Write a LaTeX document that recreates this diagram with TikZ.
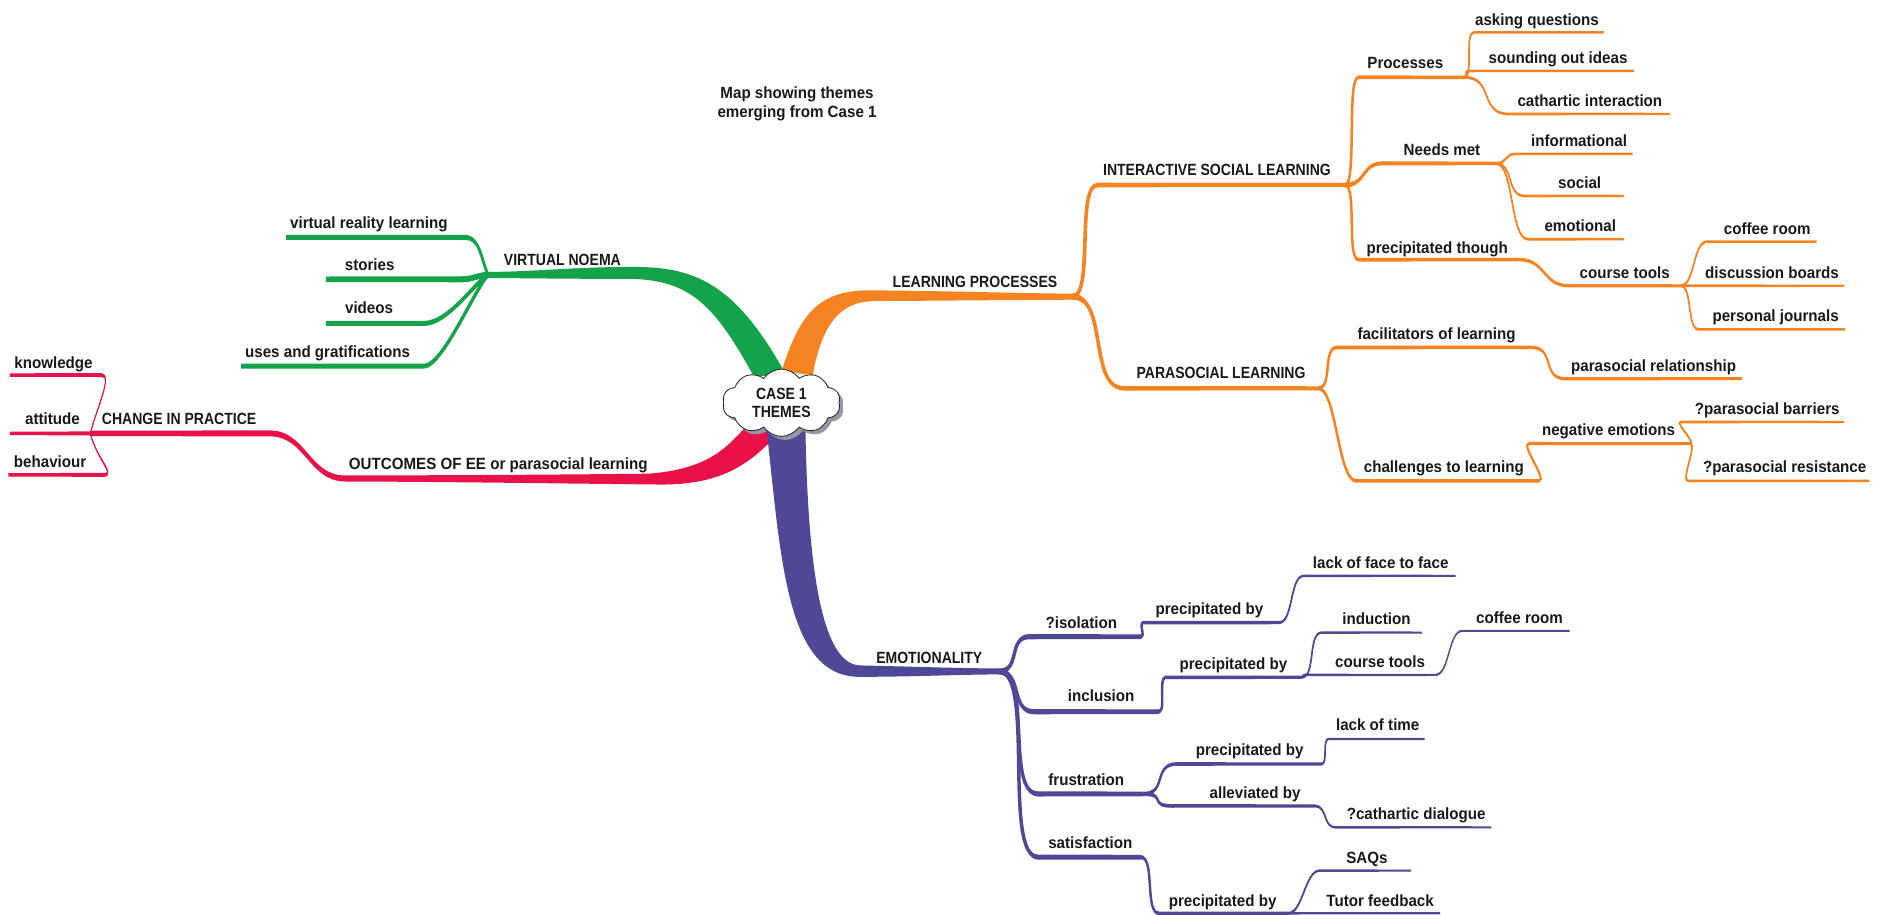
\documentclass[tikz,border=0pt]{standalone}
\usepackage{fontspec}
\newfontfamily\lcfont[FakeStretch=0.933]{Liberation Sans Bold}
\newfontfamily\ucfont[FakeStretch=0.865]{Liberation Sans Bold}
\usetikzlibrary{calc,shapes.symbols,shadows}
\definecolor{cg}{RGB}{20,163,75}
\definecolor{co}{RGB}{246,131,33}
\definecolor{cr}{RGB}{232,18,72}
\definecolor{cp}{RGB}{78,72,150}
\definecolor{txt}{RGB}{25,25,25}
\definecolor{shad}{RGB}{150,150,165}
\newcommand\setw[3]{\def\wa{#1}\def\wb{#2}\def\wc{#3}}
\newcommand\br[8]{%
  \coordinate (#3s) at (#4,#5);
  \coordinate (#3e) at (#6,#5);
  \fill[#1] ($(#2)+(0,-\wa/2)$) .. controls +(#7) and +(#8) .. ($(#3s)+(0,-\wb/2)$) -- ($(#3e)+(0,-\wc/2)$) -- ($(#3e)+(0,\wc/2)$) -- ($(#3s)+(0,\wb/2)$) .. controls +(#8) and +(#7) .. ($(#2)+(0,\wa/2)$) -- cycle;
  \draw[#1,line width=0.6*\wa pt] (#2) .. controls +(#7) and +(#8) .. (#3s);
}
\tikzset{
  lc/.style={anchor=base, inner sep=0pt, text=txt, font=\lcfont\fontsize{13.5}{15.6}\selectfont},
  uc/.style={anchor=base, inner sep=0pt, text=txt, font=\ucfont\fontsize{13.5}{15.6}\selectfont},
}
\begin{document}
\begin{tikzpicture}[x=1pt,y=-1pt]
\useasboundingbox (0,0) rectangle (1568,761);
\fill[white] (0,0) rectangle (1568,761);
% hubs
\coordinate (G) at (406,228.7);
\coordinate (LP) at (892,246.8);
\coordinate (OUT) at (287,398);
\coordinate (EM) at (831,558.5);
% main ribbons
\fill[cg] (654,312) .. controls (610,232) and (575,222) .. (525,222) .. controls (480,222) and (440,226.2) .. ($(G)+(0,-2.5)$) -- ($(G)+(0,2.5)$) .. controls (440,231.5) and (480,232) .. (525,232) .. controls (575,233) and (595,255) .. (627,313) -- cycle;
\fill[co] (650,309) .. controls (665,262) and (680,242) .. (722,241.5) .. controls (790,242) and (850,244) .. ($(LP)+(0,-2.5)$) -- ($(LP)+(0,2.5)$) .. controls (850,249.5) and (790,250) .. (726,250.5) .. controls (700,251) and (684,268) .. (676,312) -- cycle;
\fill[cr] (623,352) .. controls (605,372) and (590,390) .. (540,394) .. controls (450,395) and (350,395.5) .. ($(OUT)+(0,-2.6)$) -- ($(OUT)+(0,2.6)$) .. controls (350,400.5) and (450,402) .. (545,403) .. controls (595,404) and (620,390) .. (646,362) -- cycle;
\fill[cp] (638,360) .. controls (650,470) and (655,563) .. (715,563) .. controls (760,563) and (800,561) .. ($(EM)+(0,2.5)$) -- ($(EM)+(0,-2.5)$) .. controls (800,556) and (760,554.5) .. (715,553.5) .. controls (683,552) and (672,470) .. (670,358) -- cycle;
% green
\setw{4}{4.2}{4.2}
\br{cg}{G}{vrl}{387}{197.4}{238}{-6,-14}{12,0}
\setw{5}{5}{4.6}
\br{cg}{G}{sto}{385}{232.3}{271}{-8,0}{8,0}
\setw{4.5}{4.2}{4.2}
\br{cg}{G}{vid}{353}{269}{271}{-10,5}{20,0}
\br{cg}{G}{ug}{353}{304.5}{200.5}{-10,10}{15,0}
% orange
\setw{5}{3.8}{3.4}
\br{co}{LP}{isl}{913}{153.9}{1118.8}{18,0}{-18,0}
\br{co}{LP}{pal}{935}{323}{1096.6}{30,0}{-30,0}
\setw{3.5}{3.1}{2.9}
\br{co}{isle}{prc}{1130}{64.3}{1218}{10,0}{-10,0}
\setw{4}{3.3}{3}
\br{co}{isle}{nm}{1150}{135.9}{1244.3}{18,0}{-18,0}
\setw{3.5}{3.1}{2.9}
\br{co}{isle}{pt}{1130}{216}{1264}{10,0}{-10,0}
\setw{2.9}{2.7}{2.5}
\br{co}{pte}{ct}{1305}{237.7}{1398}{22,0}{-22,0}
\setw{2.4}{2.2}{2}
\br{co}{cte}{cof}{1420}{201}{1511}{12,0}{-12,0}
\br{co}{cte}{db}{1404}{237.7}{1534}{3,0}{-3,0}
\br{co}{cte}{pj}{1413}{274}{1535}{10,0}{-10,0}
\br{co}{prce}{aq}{1226}{26.9}{1334}{8,0}{-8,0}
\br{co}{prce}{so}{1221}{59}{1359}{3,0}{-3,0}
\br{co}{prce}{ci}{1255}{94.8}{1389}{25,0}{-25,0}
\br{co}{nme}{inf}{1261}{128}{1358}{10,0}{-10,0}
\br{co}{nme}{soc}{1268}{163}{1351}{15,0}{-15,0}
\br{co}{nme}{emo}{1271}{199}{1351}{15,0}{-15,0}
\setw{3.5}{3.1}{2.9}
\br{co}{pale}{fac}{1112}{289}{1274}{12,0}{-12,0}
\br{co}{pale}{chl}{1128}{400}{1280}{15,0}{-15,0}
\setw{2.9}{2.7}{2.5}
\br{co}{face}{psr}{1302}{315}{1449}{20,0}{-20,0}
\br{co}{chle}{neg}{1272}{369}{1406}{8,0}{-8,0}
\setw{2.4}{2.2}{2}
\br{co}{nege}{pbar}{1398}{351}{1534}{5,0}{-5,0}
\br{co}{nege}{pres}{1404}{400}{1555}{6,0}{-6,0}
% red
\setw{5}{5}{4.5}
\br{cr}{OUT}{chg}{224.4}{360.5}{75}{-30,0}{30,0}
\setw{1.5}{3.2}{3}
\br{cr}{chge}{kn}{84.6}{312}{8.3}{6,-22}{9,0}
\br{cr}{chge}{bh}{87}{395}{7}{6,22}{9,0}
\setw{3.2}{3.2}{3}
\br{cr}{chge}{att}{75}{360.5}{8.3}{0,0}{0,0}
% purple
\setw{4.8}{4.3}{3.9}
\br{cp}{EM}{iso}{856.3}{529.6}{949}{18,0}{-18,0}
\br{cp}{EM}{inc}{860}{592}{964}{20,0}{-20,0}
\br{cp}{EM}{fru}{863.7}{660.4}{951}{28,0}{-28,0}
\br{cp}{EM}{sat}{863.7}{713}{949}{30,0}{-30,0}
\setw{3.4}{3}{2.7}
\br{cp}{isoe}{pa}{951}{517.9}{1064}{4,0}{-4,0}
\br{cp}{ince}{pbb}{969.5}{563.4}{1082.8}{6,0}{-6,0}
\br{cp}{frue}{pc}{978.8}{635.5}{1099.5}{20,0}{-20,0}
\br{cp}{frue}{alv}{975}{670.4}{1094}{20,0}{-20,0}
\br{cp}{sate}{pd}{964}{759.7}{1071.6}{12,0}{-12,0}
\setw{2.4}{2}{1.8}
\br{cp}{pae}{lff}{1084.6}{479}{1210.9}{12,0}{-12,0}
\br{cp}{pbbe}{ind}{1099.5}{526.2}{1183}{12,0}{-12,0}
\br{cp}{pbbe}{ctb}{1084.6}{561.4}{1194}{2,0}{-2,0}
\br{cp}{pce}{lot}{1105}{614.7}{1185}{5,0}{-5,0}
\br{cp}{alve}{cat}{1110.6}{688.2}{1240.6}{10,0}{-10,0}
\br{cp}{pde}{saq}{1097.6}{724.2}{1173.7}{12,0}{-12,0}
\br{cp}{pde}{tf}{1075}{759.7}{1198}{2,0}{-2,0}
\setw{1.9}{1.7}{1.6}
\br{cp}{ctbe}{cofb}{1216.4}{524.8}{1305.6}{12,0}{-12,0}
% title
\node[lc, anchor=center, align=center] (title) at (663,86.2) {Map showing themes\\emerging from Case 1};
% labels green
\node[uc] (Lvn) at (467.8,221.2) {VIRTUAL NOEMA};
\node[lc] (Lvrl) at (306.8,190) {virtual reality learning};
\node[lc] (Lsto) at (307.5,225) {stories};
\node[lc] (Lvid) at (307,261) {videos};
\node[lc] (Lug) at (272.5,297) {uses and gratifications};
% labels orange
\node[uc] (Llp) at (811,239.3) {LEARNING PROCESSES};
\node[uc] (Lisl) at (1012.3,145.6) {INTERACTIVE SOCIAL LEARNING};
\node[uc] (Lpal) at (1015.7,314.7) {PARASOCIAL LEARNING};
\node[lc] (Lprc) at (1169,56.8) {Processes};
\node[lc] (Laq) at (1278.5,20.8) {asking questions};
\node[lc] (Lso) at (1296,52.5) {sounding out ideas};
\node[lc] (Lci) at (1322.5,88.5) {cathartic interaction};
\node[lc] (Lnm) at (1199.5,129.5) {Needs met};
\node[lc] (Linf) at (1313.5,121.5) {informational};
\node[lc] (Lsoc) at (1314,156.5) {social};
\node[lc] (Lemo) at (1314.5,192.5) {emotional};
\node[lc] (Lpt) at (1195.5,210.5) {precipitated though};
\node[lc] (Lct) at (1351.5,231.5) {course tools};
\node[lc] (Lcof) at (1470,195) {coffee room};
\node[lc] (Ldb) at (1474,231.5) {discussion boards};
\node[lc] (Lpj) at (1477,267.5) {personal journals};
\node[lc] (Lfac) at (1195,282.5) {facilitators of learning};
\node[lc] (Lpsr) at (1375.5,309) {parasocial relationship};
\node[lc] (Lchl) at (1201,393) {challenges to learning};
\node[lc] (Lneg) at (1338,362) {negative emotions};
\node[lc] (Lpbar) at (1470,344.5) {?parasocial barriers};
\node[lc] (Lpres) at (1484.5,393) {?parasocial resistance};
% labels red
\node[lc] (Lout) at (414.5,390.4) {OUTCOMES OF EE or parasocial learning};
\node[uc] (Lchg) at (149,353.5) {CHANGE IN PRACTICE};
\node[lc] (Lkn) at (44.5,306.4) {knowledge};
\node[lc] (Latt) at (43.7,353.5) {attitude};
\node[lc] (Lbh) at (41.7,388.7) {behaviour};
% labels purple
\node[uc] (Lem) at (773,552) {EMOTIONALITY};
\node[lc] (Liso) at (899.5,522.6) {?isolation};
\node[lc] (Lpa) at (1006,511.5) {precipitated by};
\node[lc] (Llff) at (1148.5,472.7) {lack of face to face};
\node[lc] (Linc) at (916,583.6) {inclusion};
\node[lc] (Lpbb) at (1026,557.3) {precipitated by};
\node[lc] (Lind) at (1145,519.8) {induction};
\node[lc] (Lctb) at (1148,555) {course tools};
\node[lc] (Lcofb) at (1264,518.5) {coffee room};
\node[lc] (Lfru) at (903.5,653) {frustration};
\node[lc] (Lpc) at (1039.5,628.6) {precipitated by};
\node[lc] (Llot) at (1146,607.8) {lack of time};
\node[lc] (Lalv) at (1044,664) {alleviated by};
\node[lc] (Lcat) at (1178,681.5) {?cathartic dialogue};
\node[lc] (Lsat) at (907,705.6) {satisfaction};
\node[lc] (Lpd) at (1017,754.2) {precipitated by};
\node[lc] (Lsaq) at (1137,718) {SAQs};
\node[lc] (Ltf) at (1148,754.2) {Tutor feedback};
% central cloud
\node[cloud, cloud puffs=10, cloud puff arc=110, aspect=1.8, draw=black!85, line width=0.7pt, fill=white,
  minimum width=98pt, minimum height=56pt, inner sep=0pt, align=center,
  font=\ucfont\fontsize{13.5}{14.5}\selectfont, text=txt,
  drop shadow={shadow xshift=3pt, shadow yshift=-3pt, fill=shad, opacity=1}] (root) at (650,335) {CASE 1\\THEMES};
\end{tikzpicture}
\end{document}
